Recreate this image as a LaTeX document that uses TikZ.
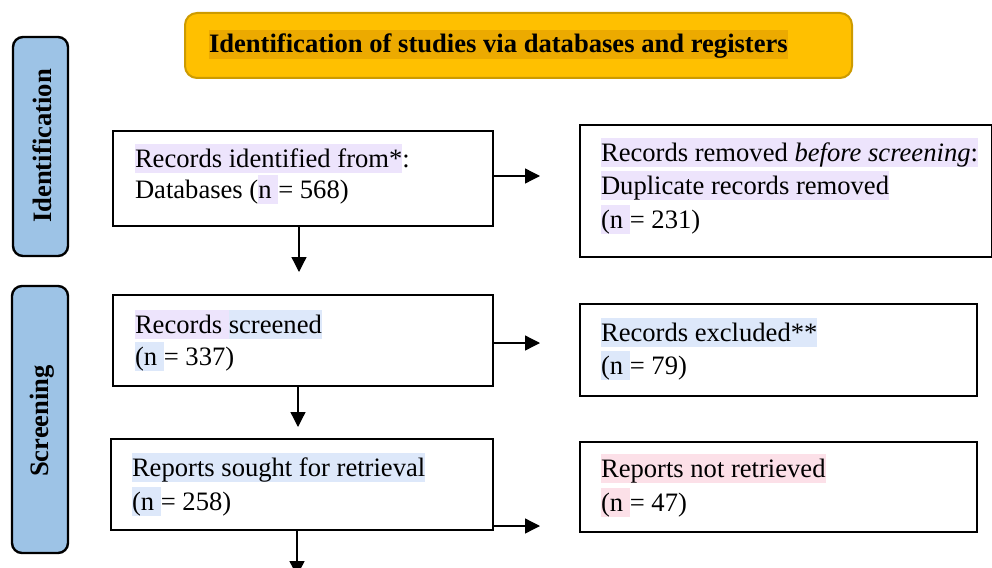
\documentclass[tikz,border=0pt]{standalone}
\usepackage{fontspec}
\setmainfont{Liberation Serif}
\usetikzlibrary{arrows.meta}
\definecolor{titlefill}{RGB}{255,192,0}
\definecolor{titleedge}{RGB}{205,155,0}
\definecolor{titlehl}{RGB}{236,170,0}
\definecolor{sidefill}{RGB}{157,195,230}
\definecolor{lav}{RGB}{237,228,252}
\definecolor{blu}{RGB}{221,232,250}
\definecolor{pnk}{RGB}{252,224,232}
\newcommand\hl[2]{{\setlength\fboxsep{0pt}\colorbox{#1}{\rule[-6pt]{0pt}{29pt}#2}}}
\tikzset{
  stagebox/.style={draw=black, line width=2.6pt, fill=white, inner sep=0pt},
  sidebox/.style={draw=black, line width=2.4pt, fill=sidefill, rounded corners=10pt},
  txt/.style={anchor=base west, inner sep=0pt, outer sep=0pt},
  arr/.style={line width=1.3pt, -{Triangle[length=15pt,width=15pt]}},
  every node/.style={font=\fontsize{26.6pt}{31pt}\selectfont}
}
\begin{document}
\begin{tikzpicture}[x=1pt,y=-1pt]
\useasboundingbox (0,0) rectangle (992,567);
% title
\node[draw=titleedge, line width=2pt, fill=titlefill, rounded corners=12pt,
      minimum width=667pt, minimum height=65pt, inner sep=0pt] (title) at (518.5,45.5) {};
\node[txt] (titletxt) at (209,53) {\bfseries\hl{titlehl}{Identification of studies via databases and registers}};
% side labels
\node[sidebox, minimum width=55pt, minimum height=219pt] (side1) at (40.5,146.5) {};
\node[rotate=90, inner sep=0pt, font=\fontsize{26.6pt}{31pt}\selectfont\bfseries] (side1t) at (42,146) {Identification};
\node[sidebox, minimum width=56pt, minimum height=267pt] (side2) at (40,419.5) {};
\node[rotate=90, inner sep=0pt, font=\fontsize{26.6pt}{31pt}\selectfont\bfseries] (side2t) at (42,421) {Screening};
% boxes
\node[stagebox, minimum width=380pt, minimum height=95pt] (b1) at (303,178.5) {};
\node[stagebox, minimum width=412pt, minimum height=132pt] (b2) at (786,191) {};
\node[stagebox, minimum width=380pt, minimum height=91pt] (b3) at (303,340.5) {};
\node[stagebox, minimum width=397pt, minimum height=92pt] (b4) at (778.5,350) {};
\node[stagebox, minimum width=382pt, minimum height=91pt] (b5) at (302,484.5) {};
\node[stagebox, minimum width=397pt, minimum height=90pt] (b6) at (778.5,487) {};
% texts
\node[txt] (t1a) at (135,167) {\hl{lav}{Records identified from*}:};
\node[txt] (t1b) at (135,198) {Databases (\hl{lav}{n }= 568)};
\node[txt] (t2a) at (601,161) {\hl{lav}{Records removed \textit{before screening}:}};
\node[txt] (t2b) at (601,194) {\hl{lav}{Duplicate records removed}};
\node[txt] (t2c) at (601,228) {\hl{lav}{(n }= 231)};
\node[txt] (t3a) at (135,333) {\hl{lav}{Records }\hl{blu}{screened}};
\node[txt] (t3b) at (135,365) {\hl{blu}{(n }= 337)};
\node[txt] (t4a) at (601,341) {\hl{blu}{Records excluded**}};
\node[txt] (t4b) at (601,374) {\hl{blu}{(n }= 79)};
\node[txt] (t5a) at (132,476) {\hl{blu}{Reports sought for retrieval}};
\node[txt] (t5b) at (132,510) {\hl{blu}{(n }= 258)};
\node[txt] (t6a) at (601,477) {\hl{pnk}{Reports not retrieved}};
\node[txt] (t6b) at (601,511) {\hl{pnk}{(n }= 47)};
% arrows
\coordinate (e1) at (540,176);
\coordinate (e3) at (540,343);
\coordinate (e5) at (540,526);
\coordinate (d1) at (299,272);
\coordinate (d3) at (298,427);
\coordinate (d5) at (297,576);
\draw[arr] (b1.east |- e1) -- (e1);
\draw[arr] (b3.east |- e3) -- (e3);
\draw[arr] (b5.east |- e5) -- (e5);
\draw[arr] (b1.south -| d1) -- (d1);
\draw[arr] (b3.south -| d3) -- (d3);
\draw[arr] (b5.south -| d5) -- (d5);
\end{tikzpicture}
\end{document}
